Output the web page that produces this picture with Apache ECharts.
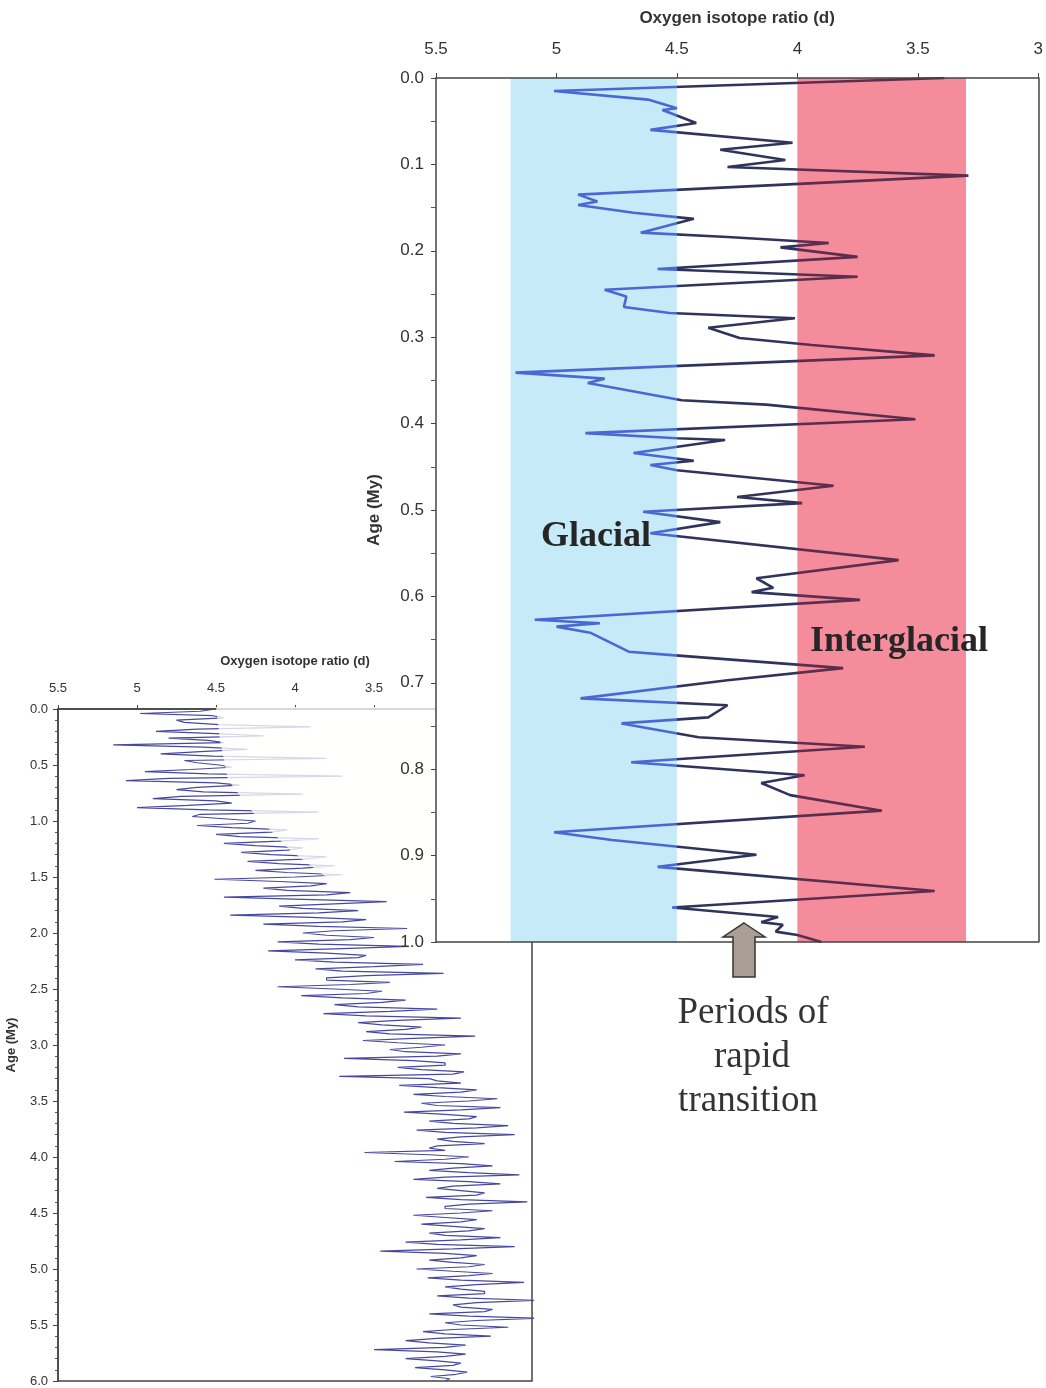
<!DOCTYPE html>
<html><head><meta charset="utf-8">
<script src="https://cdn.jsdelivr.net/npm/echarts@6/dist/echarts.min.js"></script>
<style>html,body{margin:0;padding:0;background:#fff}#c{width:1046px;height:1388px}</style>
</head><body><div id="c"></div>
<script>
// Large panel: last 1 My
const bigAge = [0.000,0.015,0.025,0.035,0.037,0.052,0.060,0.075,0.083,0.095,0.103,0.113,0.135,0.143,0.147,0.156,0.163,0.179,0.184,0.191,0.196,0.207,0.221,0.230,0.245,0.253,0.265,0.272,0.278,0.289,0.301,0.309,0.321,0.341,0.348,0.353,0.373,0.378,0.395,0.411,0.417,0.419,0.434,0.443,0.448,0.454,0.472,0.485,0.492,0.502,0.514,0.527,0.558,0.579,0.590,0.595,0.604,0.627,0.631,0.635,0.642,0.664,0.668,0.683,0.697,0.718,0.726,0.740,0.747,0.763,0.774,0.792,0.807,0.816,0.830,0.848,0.873,0.882,0.899,0.913,0.941,0.960,0.971,0.977,0.980,0.988,0.992,1.000];
const bigIso = [3.39,5.01,4.62,4.50,4.56,4.42,4.61,4.02,4.32,4.05,4.29,3.29,4.91,4.83,4.91,4.68,4.43,4.65,4.29,3.87,4.07,3.75,4.58,3.75,4.80,4.71,4.72,4.53,4.01,4.37,4.24,3.94,3.43,5.17,4.80,4.87,4.48,4.13,3.51,4.88,4.50,4.30,4.68,4.43,4.61,4.50,3.85,4.25,3.98,4.64,4.32,4.61,3.58,4.17,4.10,4.19,3.74,5.09,4.82,5.00,4.86,4.70,4.52,3.81,4.29,4.90,4.29,4.37,4.73,4.41,3.72,4.69,3.97,4.15,4.03,3.65,5.01,4.77,4.17,4.58,3.43,4.52,4.08,4.15,4.06,4.09,4.00,3.90];
// Small panel: last 6 My (extremes)
const smallAge = [0,0.04,0.08,0.12,0.16,0.2,0.24,0.28,0.32,0.36,0.4,0.44,0.48,0.52,0.56,0.6,0.64,0.68,0.72,0.76,0.8,0.84,0.88,0.92,0.96,1,
1.04,1.08,1.12,1.16,1.2,1.24,1.28,1.32,1.36,1.4,1.44,1.48,1.52,1.56,1.6,1.64,1.68,1.72,1.76,1.8,1.84,1.88,1.92,1.96,2,
2.04,2.08,2.12,2.16,2.2,2.24,2.28,2.32,2.36,2.4,2.44,2.48,2.52,2.56,2.6,2.64,2.68,2.72,2.76,2.8,2.84,2.88,2.92,2.96,3,
3.04,3.08,3.12,3.16,3.2,3.24,3.28,3.32,3.36,3.4,3.44,3.48,3.52,3.56,3.6,3.64,3.68,3.72,3.76,3.8,3.84,3.88,3.92,3.96,4,
4.04,4.08,4.12,4.16,4.2,4.24,4.28,4.32,4.36,4.4,4.44,4.48,4.52,4.56,4.6,4.64,4.68,4.72,4.76,4.8,4.84,4.88,4.92,4.96,5,
5.04,5.08,5.12,5.16,5.2,5.24,5.28,5.32,5.36,5.4,5.44,5.48,5.52,5.56,5.6,5.64,5.68,5.72,5.76,5.8,5.84,5.88,5.92,5.96,6];
const smallIso = [4.50,4.98,4.45,4.70,3.90,4.88,4.20,4.55,5.15,4.30,4.85,3.80,4.62,4.40,4.95,3.70,5.07,4.35,4.75,3.95,4.90,4.40,5.00,3.85,4.65,4.25,
4.62,4.05,4.50,3.85,4.45,3.95,4.34,3.80,4.30,3.75,4.25,3.70,4.51,3.80,4.20,3.65,4.45,3.42,4.10,3.60,4.41,3.55,4.20,3.29,3.95,
3.50,4.11,3.28,4.17,3.55,4.00,3.19,3.87,3.06,3.80,3.40,4.11,3.45,3.96,3.30,3.75,3.10,3.82,2.95,3.60,3.20,3.55,2.86,3.57,3.05,
3.40,2.95,3.69,3.05,3.35,2.93,3.72,3.10,3.34,2.85,3.25,2.72,3.20,2.70,3.31,2.85,3.15,2.65,3.23,2.61,3.10,2.80,3.15,3.56,2.90,
3.37,2.75,3.15,2.58,3.25,2.70,3.10,2.80,3.17,2.53,3.05,2.75,3.25,2.85,3.20,2.80,3.15,2.70,3.30,2.61,3.46,2.85,3.15,2.80,3.23,
2.75,3.16,2.55,3.05,2.80,3.10,2.47,3.00,2.75,3.15,2.47,3.05,2.65,3.19,2.76,3.30,2.92,3.50,2.92,3.30,2.95,3.24,2.91,3.14,3.05];
// Small panel: in-between samples
const smallAgeMid = [0.02,0.06,0.1,0.14,0.18,0.22,0.26,0.3,0.34,0.38,0.42,0.46,0.5,0.54,0.58,0.62,0.66,0.7,0.74,0.78,0.82,0.86,0.9,0.94,0.98,
1.02,1.06,1.1,1.14,1.18,1.22,1.26,1.3,1.34,1.38,1.42,1.46,1.5,1.54,1.58,1.62,1.66,1.7,1.74,1.78,1.82,1.86,1.9,1.94,1.98,
2.02,2.06,2.1,2.14,2.18,2.22,2.26,2.3,2.34,2.38,2.42,2.46,2.5,2.54,2.58,2.62,2.66,2.7,2.74,2.78,2.82,2.86,2.9,2.94,2.98,
3.02,3.06,3.1,3.14,3.18,3.22,3.26,3.3,3.34,3.38,3.42,3.46,3.5,3.54,3.58,3.62,3.66,3.7,3.74,3.78,3.82,3.86,3.9,3.94,3.98,
4.02,4.06,4.1,4.14,4.18,4.22,4.26,4.3,4.34,4.38,4.42,4.46,4.5,4.54,4.58,4.62,4.66,4.7,4.74,4.78,4.82,4.86,4.9,4.94,4.98,
5.02,5.06,5.1,5.14,5.18,5.22,5.26,5.3,5.34,5.38,5.42,5.46,5.5,5.54,5.58,5.62,5.66,5.7,5.74,5.78,5.82,5.86,5.9,5.94,5.98];
const smallIsoMid = [4.60,4.52,4.75,4.48,4.62,4.50,4.80,4.45,4.58,4.60,4.52,4.70,4.48,4.66,4.55,4.80,4.50,4.62,4.58,4.72,4.50,4.68,4.55,4.60,4.45,
4.30,4.40,4.15,4.35,4.10,4.25,4.05,4.15,3.95,4.10,3.95,4.05,4.00,4.10,3.90,4.05,3.80,3.95,3.75,3.95,3.85,3.90,3.70,3.85,3.75,
3.80,3.65,3.85,3.70,3.80,3.60,3.75,3.50,3.70,3.55,3.80,3.65,3.75,3.55,3.70,3.45,3.60,3.40,3.55,3.35,3.45,3.30,3.40,3.25,3.35,
3.20,3.30,3.10,3.25,3.05,3.20,3.00,3.15,2.95,3.10,2.95,3.05,2.90,3.10,2.95,3.05,2.90,3.00,2.85,3.05,2.95,3.00,3.10,3.05,3.15,
3.05,2.95,3.00,2.90,3.05,2.90,3.00,2.95,2.85,2.95,2.90,3.05,2.95,3.05,2.95,3.00,2.90,3.05,2.95,3.10,3.00,3.05,2.95,3.00,2.90,
3.00,2.90,2.95,2.85,2.95,2.80,2.90,2.85,2.95,2.80,2.90,2.85,2.95,3.00,3.05,3.10,3.15,3.05,3.10,3.05,3.10,3.00,3.05,2.98,3.02];
const glacialBand = [5.19, 4.5];
const interglacialBand = [4.0, 3.3];
const xTitle = 'Oxygen isotope ratio (d)';
const yTitle = 'Age (My)';

const smallData = smallAge.map((a,i)=>[smallIso[i], a])
  .concat(smallAgeMid.map((a,i)=>[smallIsoMid[i], a]))
  .sort((p,q)=>p[1]-q[1]);

const F = '"Liberation Sans", Arial, sans-serif';
const SERIF = '"Liberation Serif", "Times New Roman", serif';
const chart = echarts.init(document.getElementById('c'));
const axisLineStyle = {color:'#444', width:1.5};
const yFmt = v => v.toFixed(1);
const txt = (t, x, y, font, fill) => ({type:'text', z:10, x:x, y:y, silent:true,
  style:{text:t, font:font, fill:fill, textAlign:'center', textVerticalAlign:'middle', align:'center', verticalAlign:'middle'}});

chart.setOption({
  animation: false,
  backgroundColor: '#fff',
  grid: [
    {left:58, top:709, width:474, height:672, show:true, borderColor:'#444', borderWidth:1.5, backgroundColor:'transparent', z:0},
    {left:436, top:78, width:604, height:864, show:true, borderWidth:0, backgroundColor:'#fff', z:0.5}
  ],
  xAxis: [
    {gridIndex:0, type:'value', position:'top', inverse:true, min:2.5, max:5.5, interval:0.5, z:0,
     name:xTitle, nameLocation:'middle', nameGap:41, nameTextStyle:{fontFamily:F, fontWeight:'bold', fontSize:13, color:'#333'},
     axisLine:{show:true, onZero:false, lineStyle:axisLineStyle}, axisTick:{show:true, length:4, lineStyle:{color:'#444'}},
     axisLabel:{fontFamily:F, fontSize:13, color:'#333', margin:14}, splitLine:{show:false}},
    {gridIndex:1, type:'value', position:'top', inverse:true, min:3, max:5.5, interval:0.5, z:3,
     name:xTitle, nameLocation:'middle', nameGap:51, nameTextStyle:{fontFamily:F, fontWeight:'bold', fontSize:17, color:'#333'},
     axisLine:{show:true, onZero:false, lineStyle:axisLineStyle}, axisTick:{show:true, length:5, lineStyle:{color:'#444'}},
     axisLabel:{fontFamily:F, fontSize:17, color:'#333', margin:20}, splitLine:{show:false}},
    {gridIndex:1, type:'value', position:'bottom', inverse:true, min:3, max:5.5, interval:0.5, z:3,
     axisLine:{show:true, onZero:false, lineStyle:axisLineStyle}, axisTick:{show:false}, axisLabel:{show:false}, splitLine:{show:false}}
  ],
  yAxis: [
    {gridIndex:0, type:'value', inverse:true, min:0, max:6, interval:0.5, z:0,
     name:yTitle, nameLocation:'middle', nameGap:40, nameTextStyle:{fontFamily:F, fontWeight:'bold', fontSize:13, color:'#333'},
     axisLine:{show:true, onZero:false, lineStyle:axisLineStyle}, axisTick:{show:true, length:5, lineStyle:{color:'#444'}},
     minorTick:{show:true, splitNumber:5, length:3, lineStyle:{color:'#555'}},
     axisLabel:{fontFamily:F, fontSize:13, color:'#333', margin:10, formatter:yFmt}, splitLine:{show:false}},
    {gridIndex:1, type:'value', inverse:true, min:0, max:1, interval:0.1, z:3,
     name:yTitle, nameLocation:'middle', nameGap:53, nameTextStyle:{fontFamily:F, fontWeight:'bold', fontSize:17, color:'#333'},
     axisLine:{show:true, onZero:false, lineStyle:axisLineStyle}, axisTick:{show:true, length:5, lineStyle:{color:'#444'}},
     minorTick:{show:true, splitNumber:2, length:5, lineStyle:{color:'#555'}},
     axisLabel:{fontFamily:F, fontSize:17, color:'#333', margin:12, formatter:yFmt}, splitLine:{show:false}},
    {gridIndex:1, type:'value', position:'right', inverse:true, min:0, max:1, interval:0.1, z:3,
     axisLine:{show:true, onZero:false, lineStyle:axisLineStyle}, axisTick:{show:false}, axisLabel:{show:false}, splitLine:{show:false}}
  ],
  visualMap: {
    show:false, type:'piecewise', seriesIndex:0, dimension:0,
    pieces:[{gt:4.5, color:'#4a68d4'}, {gte:4.0, lte:4.5, color:'#30345c'}, {lt:4.0, color:'#5c2d4c'}]
  },
  series: [
    {type:'line', xAxisIndex:1, yAxisIndex:1, z:2, symbol:'none', silent:true,
     data: bigAge.map((a,i)=>[bigIso[i], a]),
     lineStyle:{width:2.6},
     markArea:{silent:true, data:[
       [{xAxis:glacialBand[0], itemStyle:{color:'#c6eaf7'}}, {xAxis:glacialBand[1]}],
       [{xAxis:interglacialBand[0], itemStyle:{color:'#f48c9c'}}, {xAxis:interglacialBand[1]}]
     ]}},
    {type:'line', xAxisIndex:0, yAxisIndex:0, z:0, symbol:'none', silent:true,
     data: smallData,
     lineStyle:{width:1.2, color:'#4848a0'}}
  ],
  graphic: [
    {type:'polygon', z:0.2, silent:true,
     shape:{points:[[216,707],[436,707],[436,900],[380,900],[330,880],[290,850],[255,815],[228,780],[220,740]]},
     style:{fill:'rgba(255,255,252,0.78)'}},
    txt('Glacial', 596, 537, 'bold 36px ' + SERIF, '#262626'),
    txt('Interglacial', 899, 642, 'bold 36px ' + SERIF, '#262626'),
    {type:'polygon', z:10, silent:true,
     shape:{points:[[744,923],[765,937],[755,937],[755,977],[733,977],[733,937],[723,937]]},
     style:{fill:'#ab9f95', stroke:'#333', lineWidth:1.5}},
    txt('Periods of', 753, 1013, '37px ' + SERIF, '#333'),
    txt('rapid', 752, 1057, '37px ' + SERIF, '#333'),
    txt('transition', 748, 1101, '37px ' + SERIF, '#333')
  ]
});
</script>
</body></html>
